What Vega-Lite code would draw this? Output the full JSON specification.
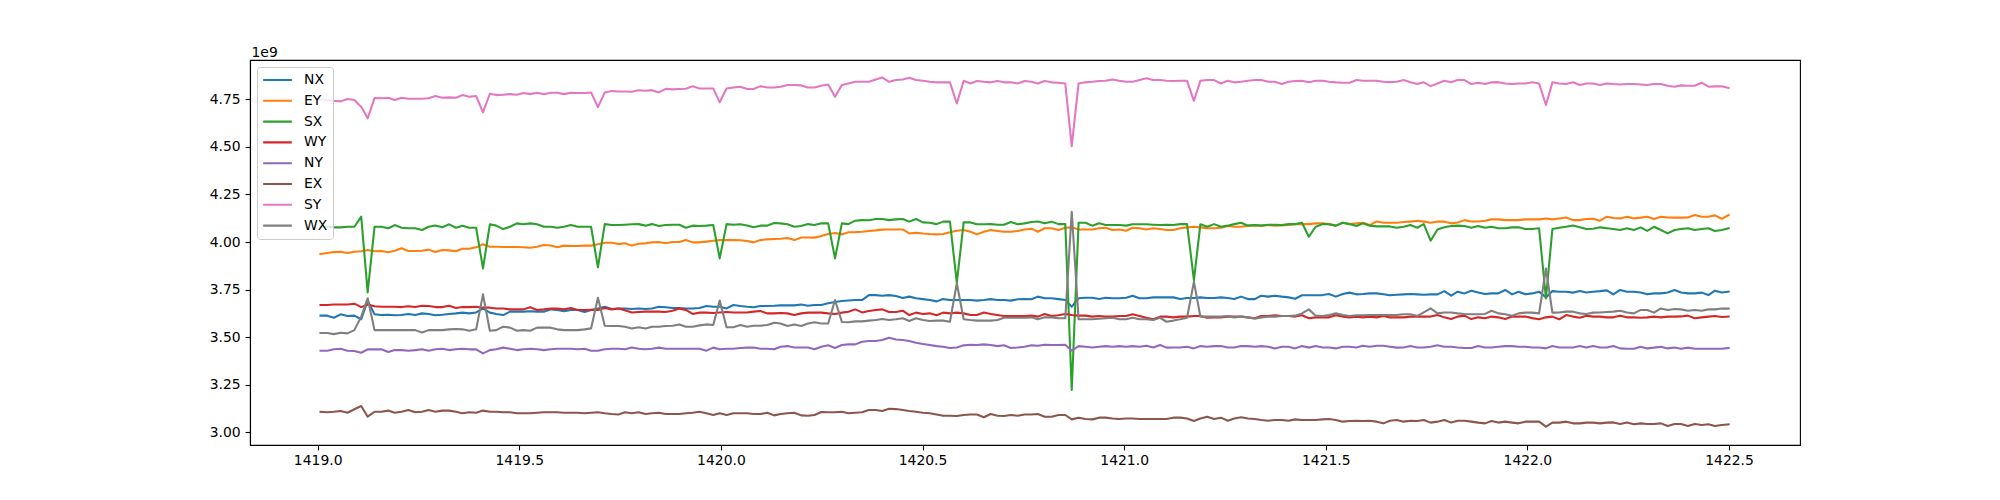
{
  "$schema": "https://vega.github.io/schema/vega-lite/v6.json",
  "autosize": {"type": "none"},
  "width": 1550,
  "height": 385,
  "padding": {"left": 250, "top": 60, "right": 200, "bottom": 55},
  "background": "white",
  "config": {
    "view": {"stroke": "black", "strokeWidth": 1.1},
    "font": "DejaVu Sans"
  },
  "data": {"values": [
{"t":1419.007,"NX":3.613e9,"EY":3.937e9,"SX":4.080e9,"WY":3.669e9,"NY":3.429e9,"EX":3.108e9,"SY":4.749e9,"WX":3.522e9},
{"t":1419.024,"NX":3.613e9,"EY":3.942e9,"SX":4.080e9,"WY":3.669e9,"NY":3.429e9,"EX":3.105e9,"SY":4.746e9,"WX":3.522e9},
{"t":1419.040,"NX":3.602e9,"EY":3.947e9,"SX":4.077e9,"WY":3.672e9,"NY":3.436e9,"EX":3.108e9,"SY":4.742e9,"WX":3.516e9},
{"t":1419.057,"NX":3.620e9,"EY":3.949e9,"SX":4.077e9,"WY":3.672e9,"NY":3.439e9,"EX":3.112e9,"SY":4.739e9,"WX":3.523e9},
{"t":1419.074,"NX":3.611e9,"EY":3.942e9,"SX":4.080e9,"WY":3.672e9,"NY":3.429e9,"EX":3.103e9,"SY":4.751e9,"WX":3.520e9},
{"t":1419.091,"NX":3.613e9,"EY":3.949e9,"SX":4.080e9,"WY":3.676e9,"NY":3.427e9,"EX":3.121e9,"SY":4.746e9,"WX":3.537e9},
{"t":1419.108,"NX":3.594e9,"EY":3.951e9,"SX":4.133e9,"WY":3.658e9,"NY":3.418e9,"EX":3.138e9,"SY":4.711e9,"WX":3.608e9},
{"t":1419.124,"NX":3.692e9,"EY":3.958e9,"SX":3.735e9,"WY":3.672e9,"NY":3.436e9,"EX":3.082e9,"SY":4.650e9,"WX":3.704e9},
{"t":1419.141,"NX":3.620e9,"EY":3.951e9,"SX":4.080e9,"WY":3.662e9,"NY":3.436e9,"EX":3.108e9,"SY":4.756e9,"WX":3.537e9},
{"t":1419.158,"NX":3.616e9,"EY":3.953e9,"SX":4.080e9,"WY":3.660e9,"NY":3.436e9,"EX":3.108e9,"SY":4.755e9,"WX":3.537e9},
{"t":1419.175,"NX":3.618e9,"EY":3.946e9,"SX":4.072e9,"WY":3.660e9,"NY":3.422e9,"EX":3.114e9,"SY":4.758e9,"WX":3.537e9},
{"t":1419.191,"NX":3.615e9,"EY":3.954e9,"SX":4.089e9,"WY":3.660e9,"NY":3.432e9,"EX":3.103e9,"SY":4.746e9,"WX":3.537e9},
{"t":1419.208,"NX":3.616e9,"EY":3.967e9,"SX":4.075e9,"WY":3.658e9,"NY":3.432e9,"EX":3.108e9,"SY":4.758e9,"WX":3.537e9},
{"t":1419.225,"NX":3.622e9,"EY":3.953e9,"SX":4.072e9,"WY":3.662e9,"NY":3.429e9,"EX":3.117e9,"SY":4.753e9,"WX":3.537e9},
{"t":1419.242,"NX":3.616e9,"EY":3.953e9,"SX":4.072e9,"WY":3.658e9,"NY":3.432e9,"EX":3.105e9,"SY":4.753e9,"WX":3.537e9},
{"t":1419.259,"NX":3.625e9,"EY":3.954e9,"SX":4.063e9,"WY":3.665e9,"NY":3.436e9,"EX":3.108e9,"SY":4.753e9,"WX":3.525e9},
{"t":1419.275,"NX":3.622e9,"EY":3.960e9,"SX":4.080e9,"WY":3.664e9,"NY":3.429e9,"EX":3.117e9,"SY":4.755e9,"WX":3.537e9},
{"t":1419.292,"NX":3.615e9,"EY":3.947e9,"SX":4.087e9,"WY":3.658e9,"NY":3.436e9,"EX":3.108e9,"SY":4.767e9,"WX":3.537e9},
{"t":1419.309,"NX":3.618e9,"EY":3.958e9,"SX":4.077e9,"WY":3.658e9,"NY":3.439e9,"EX":3.114e9,"SY":4.758e9,"WX":3.537e9},
{"t":1419.326,"NX":3.622e9,"EY":3.956e9,"SX":4.093e9,"WY":3.665e9,"NY":3.432e9,"EX":3.114e9,"SY":4.760e9,"WX":3.541e9},
{"t":1419.343,"NX":3.625e9,"EY":3.951e9,"SX":4.075e9,"WY":3.653e9,"NY":3.436e9,"EX":3.108e9,"SY":4.758e9,"WX":3.543e9},
{"t":1419.359,"NX":3.629e9,"EY":3.965e9,"SX":4.086e9,"WY":3.658e9,"NY":3.439e9,"EX":3.100e9,"SY":4.772e9,"WX":3.541e9},
{"t":1419.376,"NX":3.625e9,"EY":3.965e9,"SX":4.075e9,"WY":3.658e9,"NY":3.436e9,"EX":3.105e9,"SY":4.763e9,"WX":3.534e9},
{"t":1419.393,"NX":3.630e9,"EY":3.972e9,"SX":4.075e9,"WY":3.660e9,"NY":3.436e9,"EX":3.103e9,"SY":4.767e9,"WX":3.541e9},
{"t":1419.410,"NX":3.651e9,"EY":3.988e9,"SX":3.861e9,"WY":3.655e9,"NY":3.415e9,"EX":3.114e9,"SY":4.681e9,"WX":3.725e9},
{"t":1419.427,"NX":3.629e9,"EY":3.975e9,"SX":4.093e9,"WY":3.655e9,"NY":3.432e9,"EX":3.108e9,"SY":4.779e9,"WX":3.534e9},
{"t":1419.443,"NX":3.622e9,"EY":3.975e9,"SX":4.086e9,"WY":3.651e9,"NY":3.436e9,"EX":3.108e9,"SY":4.772e9,"WX":3.537e9},
{"t":1419.460,"NX":3.616e9,"EY":3.974e9,"SX":4.068e9,"WY":3.651e9,"NY":3.445e9,"EX":3.105e9,"SY":4.774e9,"WX":3.555e9},
{"t":1419.477,"NX":3.634e9,"EY":3.974e9,"SX":4.080e9,"WY":3.646e9,"NY":3.439e9,"EX":3.105e9,"SY":4.777e9,"WX":3.550e9},
{"t":1419.494,"NX":3.634e9,"EY":3.974e9,"SX":4.098e9,"WY":3.646e9,"NY":3.432e9,"EX":3.100e9,"SY":4.774e9,"WX":3.534e9},
{"t":1419.510,"NX":3.634e9,"EY":3.972e9,"SX":4.093e9,"WY":3.646e9,"NY":3.436e9,"EX":3.100e9,"SY":4.783e9,"WX":3.537e9},
{"t":1419.527,"NX":3.636e9,"EY":3.970e9,"SX":4.098e9,"WY":3.657e9,"NY":3.439e9,"EX":3.100e9,"SY":4.777e9,"WX":3.534e9},
{"t":1419.544,"NX":3.634e9,"EY":3.975e9,"SX":4.093e9,"WY":3.643e9,"NY":3.436e9,"EX":3.103e9,"SY":4.784e9,"WX":3.550e9},
{"t":1419.561,"NX":3.634e9,"EY":3.984e9,"SX":4.080e9,"WY":3.646e9,"NY":3.432e9,"EX":3.105e9,"SY":4.776e9,"WX":3.550e9},
{"t":1419.578,"NX":3.646e9,"EY":3.982e9,"SX":4.080e9,"WY":3.651e9,"NY":3.436e9,"EX":3.105e9,"SY":4.784e9,"WX":3.550e9},
{"t":1419.594,"NX":3.643e9,"EY":3.972e9,"SX":4.075e9,"WY":3.650e9,"NY":3.439e9,"EX":3.105e9,"SY":4.784e9,"WX":3.541e9},
{"t":1419.611,"NX":3.636e9,"EY":3.981e9,"SX":4.080e9,"WY":3.646e9,"NY":3.439e9,"EX":3.103e9,"SY":4.777e9,"WX":3.537e9},
{"t":1419.628,"NX":3.643e9,"EY":3.979e9,"SX":4.089e9,"WY":3.653e9,"NY":3.439e9,"EX":3.103e9,"SY":4.784e9,"WX":3.537e9},
{"t":1419.645,"NX":3.643e9,"EY":3.979e9,"SX":4.080e9,"WY":3.643e9,"NY":3.436e9,"EX":3.103e9,"SY":4.783e9,"WX":3.537e9},
{"t":1419.662,"NX":3.632e9,"EY":3.981e9,"SX":4.080e9,"WY":3.643e9,"NY":3.439e9,"EX":3.100e9,"SY":4.783e9,"WX":3.541e9},
{"t":1419.678,"NX":3.643e9,"EY":3.981e9,"SX":4.080e9,"WY":3.644e9,"NY":3.429e9,"EX":3.103e9,"SY":4.786e9,"WX":3.546e9},
{"t":1419.695,"NX":3.651e9,"EY":3.988e9,"SX":3.867e9,"WY":3.643e9,"NY":3.429e9,"EX":3.105e9,"SY":4.709e9,"WX":3.707e9},
{"t":1419.712,"NX":3.660e9,"EY":3.996e9,"SX":4.094e9,"WY":3.653e9,"NY":3.436e9,"EX":3.100e9,"SY":4.786e9,"WX":3.560e9},
{"t":1419.729,"NX":3.648e9,"EY":3.996e9,"SX":4.089e9,"WY":3.646e9,"NY":3.439e9,"EX":3.096e9,"SY":4.793e9,"WX":3.559e9},
{"t":1419.746,"NX":3.651e9,"EY":3.989e9,"SX":4.089e9,"WY":3.651e9,"NY":3.439e9,"EX":3.094e9,"SY":4.791e9,"WX":3.559e9},
{"t":1419.762,"NX":3.651e9,"EY":3.993e9,"SX":4.091e9,"WY":3.641e9,"NY":3.436e9,"EX":3.105e9,"SY":4.791e9,"WX":3.555e9},
{"t":1419.779,"NX":3.648e9,"EY":3.981e9,"SX":4.093e9,"WY":3.630e9,"NY":3.446e9,"EX":3.100e9,"SY":4.790e9,"WX":3.546e9},
{"t":1419.796,"NX":3.651e9,"EY":3.991e9,"SX":4.094e9,"WY":3.632e9,"NY":3.439e9,"EX":3.105e9,"SY":4.797e9,"WX":3.552e9},
{"t":1419.813,"NX":3.648e9,"EY":3.993e9,"SX":4.086e9,"WY":3.634e9,"NY":3.436e9,"EX":3.096e9,"SY":4.795e9,"WX":3.545e9},
{"t":1419.829,"NX":3.651e9,"EY":3.998e9,"SX":4.094e9,"WY":3.634e9,"NY":3.439e9,"EX":3.100e9,"SY":4.798e9,"WX":3.555e9},
{"t":1419.846,"NX":3.660e9,"EY":4.000e9,"SX":4.084e9,"WY":3.634e9,"NY":3.445e9,"EX":3.103e9,"SY":4.786e9,"WX":3.555e9},
{"t":1419.863,"NX":3.657e9,"EY":3.993e9,"SX":4.089e9,"WY":3.632e9,"NY":3.439e9,"EX":3.096e9,"SY":4.805e9,"WX":3.559e9},
{"t":1419.880,"NX":3.653e9,"EY":4.000e9,"SX":4.091e9,"WY":3.639e9,"NY":3.439e9,"EX":3.096e9,"SY":4.802e9,"WX":3.560e9},
{"t":1419.897,"NX":3.653e9,"EY":4.000e9,"SX":4.091e9,"WY":3.650e9,"NY":3.439e9,"EX":3.096e9,"SY":4.804e9,"WX":3.567e9},
{"t":1419.913,"NX":3.651e9,"EY":4.010e9,"SX":4.075e9,"WY":3.643e9,"NY":3.439e9,"EX":3.100e9,"SY":4.805e9,"WX":3.555e9},
{"t":1419.930,"NX":3.651e9,"EY":3.998e9,"SX":4.086e9,"WY":3.622e9,"NY":3.439e9,"EX":3.103e9,"SY":4.818e9,"WX":3.555e9},
{"t":1419.947,"NX":3.653e9,"EY":3.998e9,"SX":4.084e9,"WY":3.629e9,"NY":3.439e9,"EX":3.108e9,"SY":4.807e9,"WX":3.562e9},
{"t":1419.964,"NX":3.664e9,"EY":4.002e9,"SX":4.086e9,"WY":3.629e9,"NY":3.429e9,"EX":3.100e9,"SY":4.807e9,"WX":3.567e9},
{"t":1419.981,"NX":3.660e9,"EY":4.007e9,"SX":4.089e9,"WY":3.627e9,"NY":3.445e9,"EX":3.091e9,"SY":4.807e9,"WX":3.564e9},
{"t":1419.997,"NX":3.660e9,"EY":4.010e9,"SX":3.914e9,"WY":3.630e9,"NY":3.436e9,"EX":3.100e9,"SY":4.734e9,"WX":3.692e9},
{"t":1420.014,"NX":3.651e9,"EY":4.010e9,"SX":4.094e9,"WY":3.632e9,"NY":3.439e9,"EX":3.091e9,"SY":4.807e9,"WX":3.552e9},
{"t":1420.031,"NX":3.669e9,"EY":4.010e9,"SX":4.091e9,"WY":3.630e9,"NY":3.439e9,"EX":3.100e9,"SY":4.812e9,"WX":3.552e9},
{"t":1420.048,"NX":3.664e9,"EY":4.009e9,"SX":4.093e9,"WY":3.630e9,"NY":3.443e9,"EX":3.100e9,"SY":4.816e9,"WX":3.564e9},
{"t":1420.065,"NX":3.660e9,"EY":4.005e9,"SX":4.087e9,"WY":3.630e9,"NY":3.445e9,"EX":3.100e9,"SY":4.804e9,"WX":3.555e9},
{"t":1420.081,"NX":3.657e9,"EY":3.998e9,"SX":4.077e9,"WY":3.634e9,"NY":3.446e9,"EX":3.096e9,"SY":4.804e9,"WX":3.560e9},
{"t":1420.098,"NX":3.664e9,"EY":4.010e9,"SX":4.086e9,"WY":3.637e9,"NY":3.439e9,"EX":3.096e9,"SY":4.819e9,"WX":3.560e9},
{"t":1420.115,"NX":3.664e9,"EY":4.014e9,"SX":4.086e9,"WY":3.625e9,"NY":3.439e9,"EX":3.103e9,"SY":4.812e9,"WX":3.564e9},
{"t":1420.132,"NX":3.665e9,"EY":4.016e9,"SX":4.100e9,"WY":3.625e9,"NY":3.436e9,"EX":3.089e9,"SY":4.812e9,"WX":3.576e9},
{"t":1420.148,"NX":3.667e9,"EY":4.017e9,"SX":4.098e9,"WY":3.627e9,"NY":3.450e9,"EX":3.096e9,"SY":4.816e9,"WX":3.572e9},
{"t":1420.165,"NX":3.667e9,"EY":4.021e9,"SX":4.093e9,"WY":3.625e9,"NY":3.453e9,"EX":3.100e9,"SY":4.825e9,"WX":3.559e9},
{"t":1420.182,"NX":3.667e9,"EY":4.010e9,"SX":4.080e9,"WY":3.616e9,"NY":3.446e9,"EX":3.103e9,"SY":4.825e9,"WX":3.567e9},
{"t":1420.199,"NX":3.672e9,"EY":4.024e9,"SX":4.084e9,"WY":3.625e9,"NY":3.446e9,"EX":3.089e9,"SY":4.823e9,"WX":3.559e9},
{"t":1420.216,"NX":3.665e9,"EY":4.024e9,"SX":4.094e9,"WY":3.629e9,"NY":3.446e9,"EX":3.087e9,"SY":4.812e9,"WX":3.572e9},
{"t":1420.232,"NX":3.669e9,"EY":4.023e9,"SX":4.089e9,"WY":3.629e9,"NY":3.436e9,"EX":3.091e9,"SY":4.812e9,"WX":3.578e9},
{"t":1420.249,"NX":3.669e9,"EY":4.031e9,"SX":4.098e9,"WY":3.629e9,"NY":3.450e9,"EX":3.107e9,"SY":4.821e9,"WX":3.572e9},
{"t":1420.266,"NX":3.678e9,"EY":4.042e9,"SX":4.098e9,"WY":3.625e9,"NY":3.457e9,"EX":3.105e9,"SY":4.828e9,"WX":3.572e9},
{"t":1420.283,"NX":3.685e9,"EY":4.047e9,"SX":3.914e9,"WY":3.622e9,"NY":3.443e9,"EX":3.105e9,"SY":4.763e9,"WX":3.695e9},
{"t":1420.300,"NX":3.690e9,"EY":4.040e9,"SX":4.098e9,"WY":3.629e9,"NY":3.459e9,"EX":3.108e9,"SY":4.825e9,"WX":3.580e9},
{"t":1420.316,"NX":3.693e9,"EY":4.051e9,"SX":4.094e9,"WY":3.634e9,"NY":3.462e9,"EX":3.100e9,"SY":4.833e9,"WX":3.578e9},
{"t":1420.333,"NX":3.695e9,"EY":4.052e9,"SX":4.112e9,"WY":3.646e9,"NY":3.462e9,"EX":3.103e9,"SY":4.842e9,"WX":3.583e9},
{"t":1420.350,"NX":3.695e9,"EY":4.054e9,"SX":4.115e9,"WY":3.630e9,"NY":3.476e9,"EX":3.105e9,"SY":4.842e9,"WX":3.583e9},
{"t":1420.367,"NX":3.721e9,"EY":4.058e9,"SX":4.114e9,"WY":3.637e9,"NY":3.480e9,"EX":3.117e9,"SY":4.842e9,"WX":3.587e9},
{"t":1420.384,"NX":3.721e9,"EY":4.061e9,"SX":4.121e9,"WY":3.643e9,"NY":3.480e9,"EX":3.117e9,"SY":4.854e9,"WX":3.590e9},
{"t":1420.400,"NX":3.718e9,"EY":4.065e9,"SX":4.121e9,"WY":3.646e9,"NY":3.485e9,"EX":3.112e9,"SY":4.865e9,"WX":3.595e9},
{"t":1420.417,"NX":3.721e9,"EY":4.066e9,"SX":4.115e9,"WY":3.632e9,"NY":3.497e9,"EX":3.124e9,"SY":4.842e9,"WX":3.590e9},
{"t":1420.434,"NX":3.716e9,"EY":4.066e9,"SX":4.119e9,"WY":3.632e9,"NY":3.488e9,"EX":3.122e9,"SY":4.851e9,"WX":3.594e9},
{"t":1420.451,"NX":3.706e9,"EY":4.066e9,"SX":4.121e9,"WY":3.639e9,"NY":3.485e9,"EX":3.117e9,"SY":4.854e9,"WX":3.599e9},
{"t":1420.467,"NX":3.713e9,"EY":4.045e9,"SX":4.107e9,"WY":3.616e9,"NY":3.480e9,"EX":3.112e9,"SY":4.863e9,"WX":3.585e9},
{"t":1420.484,"NX":3.704e9,"EY":4.049e9,"SX":4.121e9,"WY":3.629e9,"NY":3.471e9,"EX":3.108e9,"SY":4.851e9,"WX":3.599e9},
{"t":1420.501,"NX":3.700e9,"EY":4.045e9,"SX":4.103e9,"WY":3.622e9,"NY":3.464e9,"EX":3.103e9,"SY":4.847e9,"WX":3.590e9},
{"t":1420.518,"NX":3.695e9,"EY":4.042e9,"SX":4.101e9,"WY":3.625e9,"NY":3.459e9,"EX":3.100e9,"SY":4.842e9,"WX":3.585e9},
{"t":1420.535,"NX":3.688e9,"EY":4.040e9,"SX":4.094e9,"WY":3.615e9,"NY":3.453e9,"EX":3.094e9,"SY":4.839e9,"WX":3.587e9},
{"t":1420.551,"NX":3.700e9,"EY":4.042e9,"SX":4.107e9,"WY":3.629e9,"NY":3.450e9,"EX":3.087e9,"SY":4.839e9,"WX":3.587e9},
{"t":1420.568,"NX":3.695e9,"EY":4.051e9,"SX":4.107e9,"WY":3.625e9,"NY":3.443e9,"EX":3.087e9,"SY":4.839e9,"WX":3.581e9},
{"t":1420.585,"NX":3.695e9,"EY":4.059e9,"SX":3.786e9,"WY":3.629e9,"NY":3.446e9,"EX":3.086e9,"SY":4.728e9,"WX":3.783e9},
{"t":1420.602,"NX":3.695e9,"EY":4.063e9,"SX":4.103e9,"WY":3.625e9,"NY":3.457e9,"EX":3.091e9,"SY":4.847e9,"WX":3.594e9},
{"t":1420.619,"NX":3.695e9,"EY":4.054e9,"SX":4.103e9,"WY":3.616e9,"NY":3.460e9,"EX":3.094e9,"SY":4.833e9,"WX":3.590e9},
{"t":1420.635,"NX":3.692e9,"EY":4.040e9,"SX":4.093e9,"WY":3.616e9,"NY":3.459e9,"EX":3.094e9,"SY":4.846e9,"WX":3.587e9},
{"t":1420.652,"NX":3.695e9,"EY":4.054e9,"SX":4.093e9,"WY":3.630e9,"NY":3.462e9,"EX":3.079e9,"SY":4.842e9,"WX":3.587e9},
{"t":1420.669,"NX":3.700e9,"EY":4.063e9,"SX":4.094e9,"WY":3.622e9,"NY":3.459e9,"EX":3.096e9,"SY":4.839e9,"WX":3.587e9},
{"t":1420.686,"NX":3.695e9,"EY":4.058e9,"SX":4.091e9,"WY":3.616e9,"NY":3.453e9,"EX":3.087e9,"SY":4.846e9,"WX":3.590e9},
{"t":1420.702,"NX":3.695e9,"EY":4.054e9,"SX":4.091e9,"WY":3.611e9,"NY":3.457e9,"EX":3.086e9,"SY":4.839e9,"WX":3.602e9},
{"t":1420.719,"NX":3.692e9,"EY":4.054e9,"SX":4.105e9,"WY":3.611e9,"NY":3.443e9,"EX":3.091e9,"SY":4.839e9,"WX":3.602e9},
{"t":1420.736,"NX":3.699e9,"EY":4.058e9,"SX":4.093e9,"WY":3.611e9,"NY":3.446e9,"EX":3.087e9,"SY":4.833e9,"WX":3.602e9},
{"t":1420.753,"NX":3.700e9,"EY":4.066e9,"SX":4.098e9,"WY":3.611e9,"NY":3.450e9,"EX":3.094e9,"SY":4.846e9,"WX":3.602e9},
{"t":1420.770,"NX":3.699e9,"EY":4.070e9,"SX":4.105e9,"WY":3.613e9,"NY":3.457e9,"EX":3.094e9,"SY":4.842e9,"WX":3.604e9},
{"t":1420.786,"NX":3.713e9,"EY":4.054e9,"SX":4.108e9,"WY":3.608e9,"NY":3.455e9,"EX":3.096e9,"SY":4.833e9,"WX":3.594e9},
{"t":1420.803,"NX":3.704e9,"EY":4.072e9,"SX":4.098e9,"WY":3.622e9,"NY":3.460e9,"EX":3.082e9,"SY":4.846e9,"WX":3.604e9},
{"t":1420.820,"NX":3.704e9,"EY":4.072e9,"SX":4.107e9,"WY":3.611e9,"NY":3.459e9,"EX":3.082e9,"SY":4.839e9,"WX":3.604e9},
{"t":1420.837,"NX":3.700e9,"EY":4.063e9,"SX":4.094e9,"WY":3.615e9,"NY":3.459e9,"EX":3.091e9,"SY":4.837e9,"WX":3.599e9},
{"t":1420.854,"NX":3.695e9,"EY":4.075e9,"SX":4.094e9,"WY":3.622e9,"NY":3.460e9,"EX":3.091e9,"SY":4.833e9,"WX":3.599e9},
{"t":1420.870,"NX":3.660e9,"EY":4.077e9,"SX":3.222e9,"WY":3.616e9,"NY":3.429e9,"EX":3.068e9,"SY":4.504e9,"WX":4.159e9},
{"t":1420.887,"NX":3.704e9,"EY":4.066e9,"SX":4.101e9,"WY":3.613e9,"NY":3.453e9,"EX":3.077e9,"SY":4.833e9,"WX":3.594e9},
{"t":1420.904,"NX":3.707e9,"EY":4.066e9,"SX":4.101e9,"WY":3.613e9,"NY":3.450e9,"EX":3.070e9,"SY":4.839e9,"WX":3.594e9},
{"t":1420.921,"NX":3.707e9,"EY":4.066e9,"SX":4.086e9,"WY":3.608e9,"NY":3.446e9,"EX":3.068e9,"SY":4.842e9,"WX":3.594e9},
{"t":1420.938,"NX":3.700e9,"EY":4.072e9,"SX":4.098e9,"WY":3.611e9,"NY":3.450e9,"EX":3.077e9,"SY":4.846e9,"WX":3.597e9},
{"t":1420.954,"NX":3.707e9,"EY":4.075e9,"SX":4.089e9,"WY":3.608e9,"NY":3.453e9,"EX":3.077e9,"SY":4.847e9,"WX":3.599e9},
{"t":1420.971,"NX":3.704e9,"EY":4.063e9,"SX":4.089e9,"WY":3.608e9,"NY":3.450e9,"EX":3.073e9,"SY":4.854e9,"WX":3.602e9},
{"t":1420.988,"NX":3.704e9,"EY":4.066e9,"SX":4.089e9,"WY":3.611e9,"NY":3.453e9,"EX":3.070e9,"SY":4.847e9,"WX":3.594e9},
{"t":1421.005,"NX":3.707e9,"EY":4.059e9,"SX":4.086e9,"WY":3.611e9,"NY":3.450e9,"EX":3.073e9,"SY":4.842e9,"WX":3.594e9},
{"t":1421.021,"NX":3.718e9,"EY":4.075e9,"SX":4.093e9,"WY":3.620e9,"NY":3.453e9,"EX":3.073e9,"SY":4.842e9,"WX":3.602e9},
{"t":1421.038,"NX":3.704e9,"EY":4.072e9,"SX":4.093e9,"WY":3.611e9,"NY":3.450e9,"EX":3.070e9,"SY":4.851e9,"WX":3.594e9},
{"t":1421.055,"NX":3.704e9,"EY":4.066e9,"SX":4.093e9,"WY":3.602e9,"NY":3.455e9,"EX":3.070e9,"SY":4.860e9,"WX":3.594e9},
{"t":1421.072,"NX":3.709e9,"EY":4.072e9,"SX":4.091e9,"WY":3.594e9,"NY":3.446e9,"EX":3.070e9,"SY":4.851e9,"WX":3.590e9},
{"t":1421.089,"NX":3.709e9,"EY":4.068e9,"SX":4.089e9,"WY":3.608e9,"NY":3.459e9,"EX":3.070e9,"SY":4.851e9,"WX":3.602e9},
{"t":1421.105,"NX":3.709e9,"EY":4.063e9,"SX":4.091e9,"WY":3.608e9,"NY":3.445e9,"EX":3.070e9,"SY":4.847e9,"WX":3.581e9},
{"t":1421.122,"NX":3.709e9,"EY":4.063e9,"SX":4.089e9,"WY":3.604e9,"NY":3.446e9,"EX":3.077e9,"SY":4.846e9,"WX":3.587e9},
{"t":1421.139,"NX":3.700e9,"EY":4.072e9,"SX":4.094e9,"WY":3.608e9,"NY":3.446e9,"EX":3.077e9,"SY":4.847e9,"WX":3.594e9},
{"t":1421.156,"NX":3.706e9,"EY":4.077e9,"SX":4.094e9,"WY":3.608e9,"NY":3.450e9,"EX":3.073e9,"SY":4.847e9,"WX":3.602e9},
{"t":1421.173,"NX":3.706e9,"EY":4.080e9,"SX":3.800e9,"WY":3.611e9,"NY":3.441e9,"EX":3.059e9,"SY":4.742e9,"WX":3.791e9},
{"t":1421.189,"NX":3.709e9,"EY":4.077e9,"SX":4.093e9,"WY":3.611e9,"NY":3.453e9,"EX":3.073e9,"SY":4.847e9,"WX":3.608e9},
{"t":1421.206,"NX":3.706e9,"EY":4.072e9,"SX":4.080e9,"WY":3.602e9,"NY":3.450e9,"EX":3.082e9,"SY":4.851e9,"WX":3.608e9},
{"t":1421.223,"NX":3.706e9,"EY":4.072e9,"SX":4.094e9,"WY":3.604e9,"NY":3.453e9,"EX":3.070e9,"SY":4.851e9,"WX":3.608e9},
{"t":1421.240,"NX":3.709e9,"EY":4.075e9,"SX":4.080e9,"WY":3.604e9,"NY":3.453e9,"EX":3.077e9,"SY":4.833e9,"WX":3.608e9},
{"t":1421.257,"NX":3.706e9,"EY":4.084e9,"SX":4.086e9,"WY":3.608e9,"NY":3.446e9,"EX":3.061e9,"SY":4.847e9,"WX":3.611e9},
{"t":1421.273,"NX":3.700e9,"EY":4.080e9,"SX":4.094e9,"WY":3.608e9,"NY":3.446e9,"EX":3.073e9,"SY":4.839e9,"WX":3.604e9},
{"t":1421.290,"NX":3.713e9,"EY":4.080e9,"SX":4.101e9,"WY":3.608e9,"NY":3.453e9,"EX":3.079e9,"SY":4.842e9,"WX":3.608e9},
{"t":1421.307,"NX":3.700e9,"EY":4.086e9,"SX":4.086e9,"WY":3.604e9,"NY":3.453e9,"EX":3.073e9,"SY":4.847e9,"WX":3.604e9},
{"t":1421.324,"NX":3.700e9,"EY":4.086e9,"SX":4.089e9,"WY":3.599e9,"NY":3.450e9,"EX":3.070e9,"SY":4.851e9,"WX":3.597e9},
{"t":1421.340,"NX":3.718e9,"EY":4.086e9,"SX":4.086e9,"WY":3.611e9,"NY":3.453e9,"EX":3.065e9,"SY":4.851e9,"WX":3.604e9},
{"t":1421.357,"NX":3.713e9,"EY":4.089e9,"SX":4.091e9,"WY":3.611e9,"NY":3.450e9,"EX":3.061e9,"SY":4.842e9,"WX":3.608e9},
{"t":1421.374,"NX":3.718e9,"EY":4.086e9,"SX":4.091e9,"WY":3.615e9,"NY":3.441e9,"EX":3.065e9,"SY":4.842e9,"WX":3.608e9},
{"t":1421.391,"NX":3.713e9,"EY":4.087e9,"SX":4.089e9,"WY":3.611e9,"NY":3.450e9,"EX":3.065e9,"SY":4.830e9,"WX":3.611e9},
{"t":1421.408,"NX":3.709e9,"EY":4.089e9,"SX":4.094e9,"WY":3.611e9,"NY":3.450e9,"EX":3.061e9,"SY":4.842e9,"WX":3.611e9},
{"t":1421.424,"NX":3.702e9,"EY":4.093e9,"SX":4.094e9,"WY":3.608e9,"NY":3.441e9,"EX":3.068e9,"SY":4.846e9,"WX":3.613e9},
{"t":1421.441,"NX":3.720e9,"EY":4.094e9,"SX":4.101e9,"WY":3.615e9,"NY":3.453e9,"EX":3.065e9,"SY":4.847e9,"WX":3.625e9},
{"t":1421.458,"NX":3.720e9,"EY":4.094e9,"SX":4.028e9,"WY":3.599e9,"NY":3.445e9,"EX":3.065e9,"SY":4.839e9,"WX":3.646e9},
{"t":1421.475,"NX":3.720e9,"EY":4.098e9,"SX":4.080e9,"WY":3.604e9,"NY":3.453e9,"EX":3.065e9,"SY":4.847e9,"WX":3.613e9},
{"t":1421.492,"NX":3.721e9,"EY":4.098e9,"SX":4.094e9,"WY":3.604e9,"NY":3.446e9,"EX":3.068e9,"SY":4.847e9,"WX":3.611e9},
{"t":1421.508,"NX":3.727e9,"EY":4.094e9,"SX":4.093e9,"WY":3.604e9,"NY":3.446e9,"EX":3.070e9,"SY":4.842e9,"WX":3.616e9},
{"t":1421.525,"NX":3.713e9,"EY":4.086e9,"SX":4.086e9,"WY":3.615e9,"NY":3.441e9,"EX":3.065e9,"SY":4.839e9,"WX":3.625e9},
{"t":1421.542,"NX":3.727e9,"EY":4.101e9,"SX":4.101e9,"WY":3.608e9,"NY":3.450e9,"EX":3.056e9,"SY":4.837e9,"WX":3.616e9},
{"t":1421.559,"NX":3.734e9,"EY":4.094e9,"SX":4.094e9,"WY":3.604e9,"NY":3.450e9,"EX":3.059e9,"SY":4.837e9,"WX":3.611e9},
{"t":1421.576,"NX":3.725e9,"EY":4.098e9,"SX":4.084e9,"WY":3.608e9,"NY":3.446e9,"EX":3.061e9,"SY":4.851e9,"WX":3.615e9},
{"t":1421.592,"NX":3.727e9,"EY":4.101e9,"SX":4.098e9,"WY":3.604e9,"NY":3.455e9,"EX":3.059e9,"SY":4.847e9,"WX":3.615e9},
{"t":1421.609,"NX":3.730e9,"EY":4.089e9,"SX":4.086e9,"WY":3.608e9,"NY":3.450e9,"EX":3.061e9,"SY":4.847e9,"WX":3.616e9},
{"t":1421.626,"NX":3.730e9,"EY":4.108e9,"SX":4.082e9,"WY":3.604e9,"NY":3.455e9,"EX":3.056e9,"SY":4.847e9,"WX":3.616e9},
{"t":1421.643,"NX":3.725e9,"EY":4.101e9,"SX":4.082e9,"WY":3.611e9,"NY":3.455e9,"EX":3.047e9,"SY":4.842e9,"WX":3.616e9},
{"t":1421.659,"NX":3.720e9,"EY":4.101e9,"SX":4.082e9,"WY":3.604e9,"NY":3.450e9,"EX":3.061e9,"SY":4.840e9,"WX":3.616e9},
{"t":1421.676,"NX":3.723e9,"EY":4.101e9,"SX":4.075e9,"WY":3.604e9,"NY":3.445e9,"EX":3.065e9,"SY":4.842e9,"WX":3.616e9},
{"t":1421.693,"NX":3.725e9,"EY":4.105e9,"SX":4.080e9,"WY":3.604e9,"NY":3.446e9,"EX":3.056e9,"SY":4.851e9,"WX":3.620e9},
{"t":1421.710,"NX":3.727e9,"EY":4.107e9,"SX":4.089e9,"WY":3.608e9,"NY":3.453e9,"EX":3.061e9,"SY":4.840e9,"WX":3.620e9},
{"t":1421.727,"NX":3.725e9,"EY":4.112e9,"SX":4.075e9,"WY":3.608e9,"NY":3.446e9,"EX":3.059e9,"SY":4.830e9,"WX":3.611e9},
{"t":1421.743,"NX":3.723e9,"EY":4.107e9,"SX":4.094e9,"WY":3.608e9,"NY":3.446e9,"EX":3.065e9,"SY":4.839e9,"WX":3.630e9},
{"t":1421.760,"NX":3.725e9,"EY":4.101e9,"SX":4.007e9,"WY":3.608e9,"NY":3.450e9,"EX":3.051e9,"SY":4.819e9,"WX":3.651e9},
{"t":1421.777,"NX":3.725e9,"EY":4.108e9,"SX":4.066e9,"WY":3.616e9,"NY":3.457e9,"EX":3.056e9,"SY":4.833e9,"WX":3.625e9},
{"t":1421.794,"NX":3.742e9,"EY":4.107e9,"SX":4.077e9,"WY":3.604e9,"NY":3.450e9,"EX":3.065e9,"SY":4.847e9,"WX":3.630e9},
{"t":1421.811,"NX":3.718e9,"EY":4.098e9,"SX":4.084e9,"WY":3.595e9,"NY":3.450e9,"EX":3.051e9,"SY":4.839e9,"WX":3.630e9},
{"t":1421.827,"NX":3.739e9,"EY":4.103e9,"SX":4.086e9,"WY":3.608e9,"NY":3.446e9,"EX":3.061e9,"SY":4.851e9,"WX":3.625e9},
{"t":1421.844,"NX":3.730e9,"EY":4.115e9,"SX":4.084e9,"WY":3.613e9,"NY":3.443e9,"EX":3.061e9,"SY":4.851e9,"WX":3.622e9},
{"t":1421.861,"NX":3.744e9,"EY":4.108e9,"SX":4.075e9,"WY":3.595e9,"NY":3.443e9,"EX":3.056e9,"SY":4.830e9,"WX":3.620e9},
{"t":1421.878,"NX":3.735e9,"EY":4.108e9,"SX":4.084e9,"WY":3.604e9,"NY":3.453e9,"EX":3.051e9,"SY":4.837e9,"WX":3.620e9},
{"t":1421.895,"NX":3.727e9,"EY":4.112e9,"SX":4.075e9,"WY":3.599e9,"NY":3.446e9,"EX":3.047e9,"SY":4.830e9,"WX":3.622e9},
{"t":1421.911,"NX":3.730e9,"EY":4.119e9,"SX":4.080e9,"WY":3.608e9,"NY":3.446e9,"EX":3.059e9,"SY":4.839e9,"WX":3.639e9},
{"t":1421.928,"NX":3.730e9,"EY":4.119e9,"SX":4.072e9,"WY":3.604e9,"NY":3.450e9,"EX":3.051e9,"SY":4.840e9,"WX":3.625e9},
{"t":1421.945,"NX":3.748e9,"EY":4.115e9,"SX":4.072e9,"WY":3.595e9,"NY":3.453e9,"EX":3.056e9,"SY":4.833e9,"WX":3.620e9},
{"t":1421.962,"NX":3.725e9,"EY":4.115e9,"SX":4.077e9,"WY":3.608e9,"NY":3.453e9,"EX":3.051e9,"SY":4.830e9,"WX":3.613e9},
{"t":1421.978,"NX":3.739e9,"EY":4.115e9,"SX":4.077e9,"WY":3.608e9,"NY":3.450e9,"EX":3.047e9,"SY":4.833e9,"WX":3.625e9},
{"t":1421.995,"NX":3.725e9,"EY":4.119e9,"SX":4.068e9,"WY":3.608e9,"NY":3.450e9,"EX":3.056e9,"SY":4.833e9,"WX":3.629e9},
{"t":1422.012,"NX":3.730e9,"EY":4.119e9,"SX":4.068e9,"WY":3.600e9,"NY":3.446e9,"EX":3.056e9,"SY":4.839e9,"WX":3.629e9},
{"t":1422.029,"NX":3.739e9,"EY":4.119e9,"SX":4.072e9,"WY":3.594e9,"NY":3.446e9,"EX":3.056e9,"SY":4.833e9,"WX":3.625e9},
{"t":1422.046,"NX":3.709e9,"EY":4.124e9,"SX":3.704e9,"WY":3.604e9,"NY":3.441e9,"EX":3.030e9,"SY":4.720e9,"WX":3.861e9},
{"t":1422.062,"NX":3.742e9,"EY":4.119e9,"SX":4.068e9,"WY":3.608e9,"NY":3.453e9,"EX":3.051e9,"SY":4.839e9,"WX":3.629e9},
{"t":1422.079,"NX":3.739e9,"EY":4.124e9,"SX":4.075e9,"WY":3.594e9,"NY":3.446e9,"EX":3.051e9,"SY":4.833e9,"WX":3.630e9},
{"t":1422.096,"NX":3.739e9,"EY":4.129e9,"SX":4.080e9,"WY":3.616e9,"NY":3.446e9,"EX":3.056e9,"SY":4.830e9,"WX":3.634e9},
{"t":1422.113,"NX":3.734e9,"EY":4.115e9,"SX":4.087e9,"WY":3.608e9,"NY":3.446e9,"EX":3.047e9,"SY":4.839e9,"WX":3.634e9},
{"t":1422.130,"NX":3.742e9,"EY":4.115e9,"SX":4.077e9,"WY":3.602e9,"NY":3.453e9,"EX":3.047e9,"SY":4.825e9,"WX":3.625e9},
{"t":1422.146,"NX":3.735e9,"EY":4.121e9,"SX":4.068e9,"WY":3.613e9,"NY":3.446e9,"EX":3.051e9,"SY":4.833e9,"WX":3.622e9},
{"t":1422.163,"NX":3.739e9,"EY":4.122e9,"SX":4.070e9,"WY":3.608e9,"NY":3.453e9,"EX":3.051e9,"SY":4.833e9,"WX":3.629e9},
{"t":1422.180,"NX":3.742e9,"EY":4.112e9,"SX":4.077e9,"WY":3.608e9,"NY":3.446e9,"EX":3.047e9,"SY":4.825e9,"WX":3.630e9},
{"t":1422.197,"NX":3.746e9,"EY":4.133e9,"SX":4.072e9,"WY":3.604e9,"NY":3.446e9,"EX":3.051e9,"SY":4.833e9,"WX":3.632e9},
{"t":1422.213,"NX":3.725e9,"EY":4.126e9,"SX":4.068e9,"WY":3.604e9,"NY":3.453e9,"EX":3.052e9,"SY":4.830e9,"WX":3.634e9},
{"t":1422.230,"NX":3.748e9,"EY":4.124e9,"SX":4.063e9,"WY":3.613e9,"NY":3.441e9,"EX":3.044e9,"SY":4.828e9,"WX":3.639e9},
{"t":1422.247,"NX":3.739e9,"EY":4.133e9,"SX":4.072e9,"WY":3.604e9,"NY":3.439e9,"EX":3.051e9,"SY":4.830e9,"WX":3.630e9},
{"t":1422.264,"NX":3.739e9,"EY":4.124e9,"SX":4.063e9,"WY":3.604e9,"NY":3.439e9,"EX":3.042e9,"SY":4.830e9,"WX":3.625e9},
{"t":1422.281,"NX":3.735e9,"EY":4.128e9,"SX":4.077e9,"WY":3.602e9,"NY":3.450e9,"EX":3.047e9,"SY":4.828e9,"WX":3.643e9},
{"t":1422.297,"NX":3.725e9,"EY":4.133e9,"SX":4.058e9,"WY":3.604e9,"NY":3.441e9,"EX":3.044e9,"SY":4.825e9,"WX":3.643e9},
{"t":1422.314,"NX":3.730e9,"EY":4.121e9,"SX":4.080e9,"WY":3.608e9,"NY":3.445e9,"EX":3.044e9,"SY":4.830e9,"WX":3.629e9},
{"t":1422.331,"NX":3.730e9,"EY":4.133e9,"SX":4.063e9,"WY":3.604e9,"NY":3.450e9,"EX":3.047e9,"SY":4.830e9,"WX":3.651e9},
{"t":1422.348,"NX":3.735e9,"EY":4.129e9,"SX":4.045e9,"WY":3.608e9,"NY":3.441e9,"EX":3.033e9,"SY":4.821e9,"WX":3.643e9},
{"t":1422.365,"NX":3.748e9,"EY":4.128e9,"SX":4.063e9,"WY":3.608e9,"NY":3.446e9,"EX":3.044e9,"SY":4.816e9,"WX":3.648e9},
{"t":1422.381,"NX":3.735e9,"EY":4.128e9,"SX":4.068e9,"WY":3.609e9,"NY":3.439e9,"EX":3.044e9,"SY":4.823e9,"WX":3.646e9},
{"t":1422.398,"NX":3.730e9,"EY":4.129e9,"SX":4.072e9,"WY":3.613e9,"NY":3.445e9,"EX":3.033e9,"SY":4.821e9,"WX":3.639e9},
{"t":1422.415,"NX":3.730e9,"EY":4.142e9,"SX":4.063e9,"WY":3.599e9,"NY":3.439e9,"EX":3.044e9,"SY":4.821e9,"WX":3.643e9},
{"t":1422.432,"NX":3.734e9,"EY":4.133e9,"SX":4.068e9,"WY":3.604e9,"NY":3.439e9,"EX":3.038e9,"SY":4.837e9,"WX":3.639e9},
{"t":1422.449,"NX":3.721e9,"EY":4.133e9,"SX":4.072e9,"WY":3.608e9,"NY":3.439e9,"EX":3.042e9,"SY":4.816e9,"WX":3.646e9},
{"t":1422.465,"NX":3.744e9,"EY":4.140e9,"SX":4.058e9,"WY":3.611e9,"NY":3.439e9,"EX":3.033e9,"SY":4.818e9,"WX":3.646e9},
{"t":1422.482,"NX":3.735e9,"EY":4.122e9,"SX":4.063e9,"WY":3.606e9,"NY":3.439e9,"EX":3.038e9,"SY":4.818e9,"WX":3.651e9},
{"t":1422.499,"NX":3.739e9,"EY":4.142e9,"SX":4.072e9,"WY":3.608e9,"NY":3.443e9,"EX":3.042e9,"SY":4.809e9,"WX":3.650e9}
  ]},
  "transform": [
    {"fold": ["NX", "EY", "SX", "WY", "NY", "EX", "SY", "WX"], "as": ["series", "value"]}
  ],
  "mark": {"type": "line", "strokeWidth": 2.08, "strokeJoin": "round", "strokeCap": "square", "clip": true},
  "encoding": {
    "x": {
      "field": "t", "type": "quantitative",
      "scale": {"domain": [1418.8322, 1422.676], "nice": false, "zero": false},
      "axis": {
        "title": null, "grid": false,
        "values": [1419, 1419.5, 1420, 1420.5, 1421, 1421.5, 1422, 1422.5],
        "format": ".1f",
        "labelFont": "DejaVu Sans", "labelFontSize": 13.9, "labelColor": "black",
        "tickColor": "black", "tickSize": 4.9, "tickWidth": 1.1, "labelPadding": 3.5,
        "domainColor": "black", "domainWidth": 1.1, "labelFlush": false, "labelOverlap": false
      }
    },
    "y": {
      "field": "value", "type": "quantitative",
      "scale": {"domain": [2.9333e9, 4.9564e9], "nice": false, "zero": false},
      "axis": {
        "title": "1e9", "titleAngle": 0, "titleAlign": "left", "titleBaseline": "alphabetic",
        "titleX": 1, "titleY": -4, "titleFont": "DejaVu Sans", "titleFontSize": 13.9,
        "titleFontWeight": "normal", "titleColor": "black", "titlePadding": 0,
        "grid": false,
        "values": [3.0e9, 3.25e9, 3.5e9, 3.75e9, 4.0e9, 4.25e9, 4.5e9, 4.75e9],
        "labelExpr": "format(datum.value / 1e9, '.2f')",
        "labelFont": "DejaVu Sans", "labelFontSize": 13.9, "labelColor": "black",
        "tickColor": "black", "tickSize": 4.9, "tickWidth": 1.1, "labelPadding": 4.9,
        "domainColor": "black", "domainWidth": 1.1, "labelFlush": false, "labelOverlap": false
      }
    },
    "color": {
      "field": "series", "type": "nominal",
      "scale": {
        "domain": ["NX", "EY", "SX", "WY", "NY", "EX", "SY", "WX"],
        "range": ["#1f77b4", "#ff7f0e", "#2ca02c", "#d62728", "#9467bd", "#8c564b", "#e377c2", "#7f7f7f"]
      },
      "legend": {
        "title": null, "orient": "top-left", "offset": 7,
        "symbolType": "stroke", "symbolSize": 824, "symbolStrokeWidth": 2.08,
        "labelFont": "DejaVu Sans", "labelFontSize": 13.9, "labelColor": "black",
        "labelOffset": 11, "clipHeight": 16, "rowPadding": 4.8,
        "padding": 5, "fillColor": "rgba(255,255,255,0.8)", "strokeColor": "#cccccc",
        "cornerRadius": 3
      }
    }
  }
}
